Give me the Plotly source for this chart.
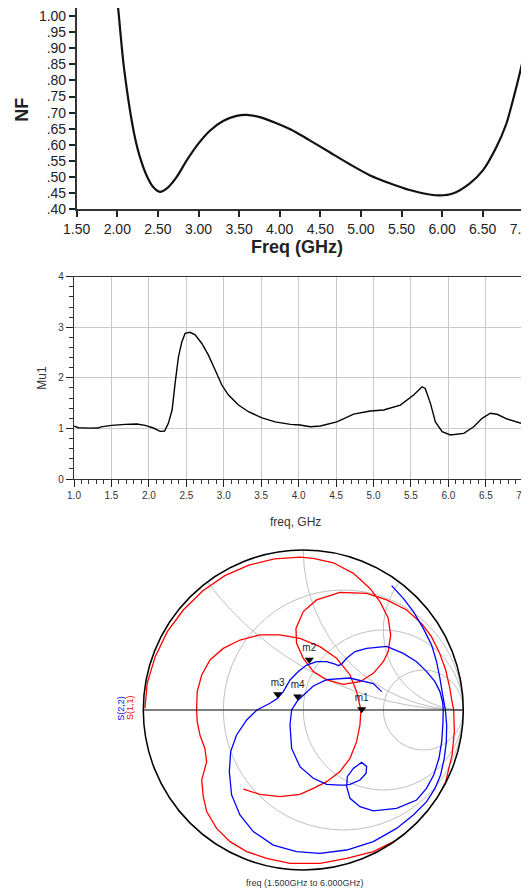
import numpy as np
import plotly.graph_objects as go

# ---------------- NF panel ----------------
nf_freq = [1.98, 2.012, 2.041, 2.073, 2.115, 2.164, 2.217, 2.279, 2.361, 2.442, 2.525, 2.607,
           2.73, 2.853, 2.996, 3.14, 3.303, 3.468, 3.591, 3.755, 3.96, 4.124, 4.247, 4.37,
           4.616, 4.862, 5.108, 5.354, 5.6, 5.846, 5.969, 6.132, 6.338, 6.502, 6.666, 6.789,
           6.912, 7.0]
nf_vals = [1.08, 1.02, 0.941, 0.859, 0.777, 0.695, 0.623, 0.562, 0.505, 0.469, 0.454, 0.464,
           0.50, 0.551, 0.603, 0.644, 0.674, 0.690, 0.693, 0.686, 0.667, 0.649, 0.632, 0.614,
           0.577, 0.540, 0.506, 0.481, 0.460, 0.446, 0.443, 0.449, 0.480, 0.521, 0.592, 0.664,
           0.777, 0.869]
nf_xticks = [1.5, 2.0, 2.5, 3.0, 3.5, 4.0, 4.5, 5.0, 5.5, 6.0, 6.5, 7.0]
nf_xtext = ["1.50", "2.00", "2.50", "3.00", "3.50", "4.00", "4.50", "5.00", "5.50", "6.00", "6.50", "7.00"]
nf_yticks = [0.40, 0.45, 0.50, 0.55, 0.60, 0.65, 0.70, 0.75, 0.80, 0.85, 0.90, 0.95, 1.00]
nf_ytext = [".40", ".45", ".50", ".55", ".60", ".65", ".70", ".75", ".80", ".85", ".90", ".95", "1.00"]

# ---------------- Mu1 panel ----------------
mu_freq = [1.0, 1.06, 1.2, 1.325, 1.36, 1.504, 1.682, 1.838, 1.95, 2.06, 2.15, 2.21, 2.26,
           2.31, 2.35, 2.395, 2.44, 2.484, 2.55, 2.618, 2.707, 2.795, 2.885, 2.974, 3.063,
           3.197, 3.33, 3.51, 3.687, 3.89, 4.02, 4.155, 4.29, 4.51, 4.734, 4.957, 5.135,
           5.358, 5.536, 5.648, 5.69, 5.76, 5.826, 5.916, 6.027, 6.205, 6.338, 6.45, 6.56,
           6.65, 6.785, 7.0]
mu_vals = [1.047, 1.014, 1.005, 1.008, 1.03, 1.061, 1.08, 1.087, 1.061, 1.008, 0.942, 0.949,
           1.10, 1.364, 1.89, 2.417, 2.71, 2.88, 2.90, 2.85, 2.68, 2.45, 2.154, 1.858, 1.66,
           1.462, 1.33, 1.21, 1.13, 1.08, 1.067, 1.034, 1.047, 1.13, 1.284, 1.344, 1.364,
           1.462, 1.66, 1.824, 1.79, 1.496, 1.13, 0.935, 0.87, 0.903, 1.034, 1.20, 1.30,
           1.28, 1.186, 1.087]
mu_xticks = [1.0, 1.5, 2.0, 2.5, 3.0, 3.5, 4.0, 4.5, 5.0, 5.5, 6.0, 6.5, 7.0]
mu_yticks = [0, 1, 2, 3, 4]

# ---------------- Smith panel (reflection coefficients) ----------------
s11_re = [-0.99, -0.975, -0.925, -0.85, -0.75, -0.628, -0.49, -0.34, -0.18, -0.02, 0.063, 0.188,
          0.313, 0.417, 0.479, 0.531, 0.546, 0.531, 0.50, 0.438, 0.354, 0.25, 0.146, 0.063, 0.0,
          -0.042, -0.046, 0.0, 0.083, 0.229, 0.396, 0.521, 0.646, 0.74, 0.80, 0.85, 0.89, 0.915,
          0.93, 0.94, 0.944, 0.93, 0.89, 0.82, 0.72, 0.583, 0.438, 0.271, 0.104, -0.083, -0.229,
          -0.354, -0.458, -0.542, -0.604, -0.625, -0.635, -0.604, -0.615, -0.646, -0.663, -0.667,
          -0.663, -0.635, -0.583, -0.5, -0.396, -0.271, -0.146, -0.021, 0.104, 0.208, 0.292,
          0.333, 0.36, 0.354, 0.333, 0.292, 0.229, 0.146, 0.063, -0.021, -0.146, -0.271, -0.375]
s11_im = [0.01, 0.17, 0.335, 0.49, 0.625, 0.745, 0.84, 0.905, 0.945, 0.955, 0.948, 0.92,
          0.854, 0.76, 0.677, 0.573, 0.469, 0.365, 0.302, 0.229, 0.177, 0.16, 0.188, 0.24, 0.323,
          0.417, 0.51, 0.615, 0.688, 0.735, 0.729, 0.688, 0.625, 0.54, 0.46, 0.36, 0.25, 0.14,
          0.05, 0.0, -0.135, -0.28, -0.448, -0.59, -0.71, -0.813, -0.885, -0.927, -0.958, -0.958,
          -0.927, -0.885, -0.823, -0.74, -0.635, -0.542, -0.438, -0.323, -0.24, -0.156, -0.073,
          0.0, 0.115, 0.219, 0.3125, 0.385, 0.4375, 0.469, 0.469, 0.448, 0.396, 0.323, 0.219,
          0.115, 0.0, -0.094, -0.198, -0.302, -0.385, -0.448, -0.49, -0.527, -0.542, -0.527, -0.494]

s22_re = [0.552, 0.625, 0.688, 0.750, 0.802, 0.833, 0.854, 0.871, 0.888, 0.896, 0.894, 0.881,
          0.858, 0.823, 0.771, 0.6875, 0.583, 0.4375, 0.271, 0.104, -0.042, -0.1875, -0.3125,
          -0.396, -0.448, -0.4625, -0.454, -0.417, -0.354, -0.29, -0.208, -0.16, -0.125, -0.083,
          -0.031, 0.021, 0.083, 0.146, 0.198, 0.219, 0.24, 0.271, 0.323, 0.396, 0.521, 0.625,
          0.708, 0.771, 0.823, 0.854, 0.870, 0.875, 0.872, 0.865, 0.848, 0.815, 0.77, 0.708,
          0.583, 0.4375, 0.354, 0.292, 0.271, 0.275, 0.3125, 0.365, 0.396, 0.392, 0.354, 0.292,
          0.229, 0.146, 0.0625, -0.021, -0.073, -0.083, -0.073, -0.035, 0.0625, 0.146, 0.29,
          0.4375, 0.49]
s22_im = [0.777, 0.698, 0.615, 0.510, 0.406, 0.302, 0.198, 0.094, 0.0, -0.094, -0.198, -0.302,
          -0.406, -0.49, -0.573, -0.656, -0.740, -0.823, -0.875, -0.896, -0.885, -0.844, -0.760,
          -0.656, -0.531, -0.385, -0.260, -0.156, -0.0625, 0.0, 0.042, 0.073, 0.115, 0.1875,
          0.240, 0.281, 0.302, 0.302, 0.2875, 0.277, 0.2875, 0.323, 0.365, 0.385, 0.398, 0.354,
          0.302, 0.24, 0.177, 0.115, 0.052, 0.0, -0.094, -0.198, -0.302, -0.406, -0.49, -0.5625,
          -0.615, -0.631, -0.604, -0.552, -0.479, -0.417, -0.365, -0.327, -0.354, -0.396, -0.4375,
          -0.465, -0.469, -0.465, -0.427, -0.354, -0.24, -0.094, 0.0, 0.06, 0.15, 0.19, 0.2,
          0.165, 0.115]

mk_names = ["m1", "m2", "m3", "m4"]
mk_re = [0.365, 0.0375, -0.16, -0.035]
mk_im = [0.005, 0.314, 0.099, 0.084]

smith_r_grid = [1 / 3, 1.0, 3.0]
smith_x_grid = [0.5, 1.0, 2.0]


def to_z(re, im):
    g = np.array(re) + 1j * np.array(im)
    z = (1 + g) / (1 - g)
    return z.real.tolist(), z.imag.tolist()


# the page body adds an 8px offset, so the figure is laid out in (reference - 8) pixel coordinates
OFF = 8
W, H = 529 - OFF, 890 - OFF


def px(xp):
    return min(1.0, max(0.0, (xp - OFF) / W))


def py(yp):
    return min(1.0, max(0.0, 1 - (yp - OFF) / H))


fig = go.Figure()

fig.add_trace(go.Scatter(x=nf_freq, y=nf_vals, mode="lines", xaxis="x", yaxis="y",
                         line=dict(color="#111111", width=2.2, shape="spline", smoothing=0.8),
                         showlegend=False))
fig.add_trace(go.Scatter(x=mu_freq, y=mu_vals, mode="lines", xaxis="x2", yaxis="y2",
                         line=dict(color="black", width=1.4), showlegend=False))

r11, x11 = to_z(s11_re, s11_im)
r22, x22 = to_z(s22_re, s22_im)
rm, xm = to_z(mk_re, mk_im)
fig.add_trace(go.Scattersmith(real=r11, imag=x11, mode="lines", subplot="smith",
                              line=dict(color="#ff0000", width=1.3), showlegend=False))
fig.add_trace(go.Scattersmith(real=r22, imag=x22, mode="lines", subplot="smith",
                              line=dict(color="#0000ff", width=1.3), showlegend=False))
fig.add_trace(go.Scattersmith(real=rm, imag=xm, mode="markers+text", subplot="smith",
                              text=mk_names, textposition="top center",
                              textfont=dict(family="Liberation Sans, Arial", size=10, color="#222222"),
                              marker=dict(symbol="triangle-down", size=8, color="black"),
                              showlegend=False))

tick_font = dict(family="Liberation Sans, Arial", size=14, color="#222222")
small_font = dict(family="Liberation Sans, Arial", size=10, color="#333333")


def ann(text, x, y, size, color, angle=0, bold=False):
    f = dict(family="Liberation Sans, Arial", size=size, color=color)
    if bold:
        f["weight"] = "bold"
    return dict(text=text, x=px(x), y=py(y), xref="paper", yref="paper", showarrow=False,
                xanchor="center", yanchor="middle", textangle=angle, font=f)


fig.update_layout(
    width=W, height=H,
    margin=dict(l=0, r=0, t=0, b=0, autoexpand=False),
    paper_bgcolor="white", plot_bgcolor="white",
    xaxis=dict(domain=[px(76.7), px(523.3)], range=[1.5, 7.0], tickvals=nf_xticks, ticktext=nf_xtext,
               ticks="outside", ticklen=6, tickwidth=1.5, tickcolor="#222222", showline=True,
               linecolor="#333333", linewidth=1.5, mirror=True, showgrid=False, zeroline=False,
               tickfont=tick_font, anchor="y", automargin=False, ticklabeloverflow="allow"),
    yaxis=dict(domain=[py(209.3), py(8.0)], range=[0.40, 1.0248], tickvals=nf_yticks, ticktext=nf_ytext,
               ticks="outside", ticklen=6, tickwidth=1.5, tickcolor="#222222", showline=True,
               linecolor="#333333", linewidth=1.5, mirror=True, showgrid=False, zeroline=False,
               tickfont=tick_font, anchor="x", automargin=False, ticklabeloverflow="allow"),
    xaxis2=dict(domain=[px(74), px(523.3)], range=[1.0, 7.0], tickvals=mu_xticks, tickformat=".1f",
                ticks="outside", ticklen=7, tickcolor="#222222", showline=True,
                linecolor="#333333", linewidth=1.2, mirror=True, showgrid=True, gridcolor="#c8c8c8",
                gridwidth=1.2, zeroline=False, tickfont=small_font, anchor="y2", automargin=False,
                ticklabeloverflow="allow",
                minor=dict(dtick=0.1, ticks="outside", ticklen=4, tickcolor="#333333", showgrid=False)),
    yaxis2=dict(domain=[py(479), py(276.7)], range=[0, 4], tickvals=mu_yticks,
                ticks="outside", ticklen=7, tickcolor="#222222", showline=True,
                linecolor="#333333", linewidth=1.2, mirror=True, showgrid=True, gridcolor="#c8c8c8",
                gridwidth=1.2, zeroline=False, tickfont=small_font, anchor="x2", automargin=False,
                ticklabeloverflow="allow",
                minor=dict(dtick=0.2, ticks="outside", ticklen=4, tickcolor="#333333", showgrid=False)),
    smith=dict(
        domain=dict(x=[px(143.3), px(463.3)], y=[py(870), py(550)]),
        bgcolor="white",
        realaxis=dict(tickvals=smith_r_grid, showticklabels=False, ticks="", gridcolor="#c0c0c0",
                      gridwidth=1, showline=True, linecolor="black", linewidth=1.2),
        imaginaryaxis=dict(tickvals=smith_x_grid, showticklabels=False, ticks="", gridcolor="#c0c0c0",
                           gridwidth=1, showline=True, linecolor="black", linewidth=1.5),
    ),
    annotations=[
        ann("NF", 21.7, 110, 18, "#222222", angle=-90, bold=True),
        ann("Freq (GHz)", 297, 247, 18, "#222222", bold=True),
        ann("Mu1", 41.7, 378, 12, "#333333", angle=-90),
        ann("freq, GHz", 295, 521.7, 12, "#333333"),
        ann("S(2,2)", 120.7, 708, 9, "#0000ff", angle=-90),
        ann("S(1,1)", 130, 708, 9, "#ff0000", angle=-90),
        ann("freq (1.500GHz to 6.000GHz)", 305, 882.7, 9, "#333333"),
    ],
)

fig.write_html("out.html")
